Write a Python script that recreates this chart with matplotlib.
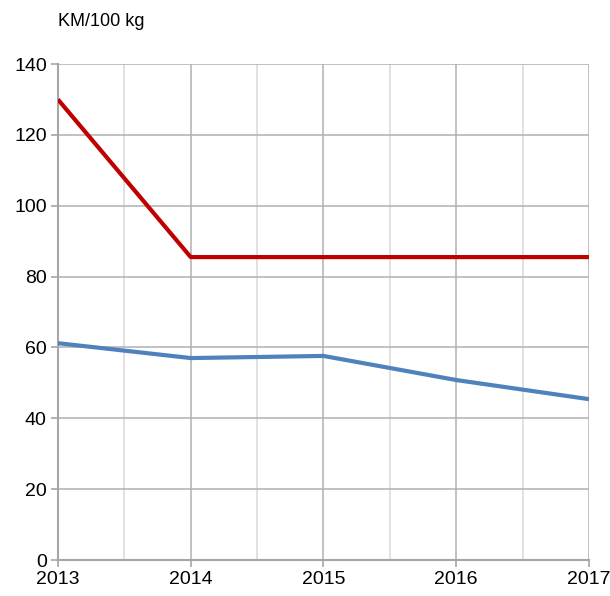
import matplotlib
matplotlib.use("Agg")
import matplotlib.pyplot as plt
from matplotlib.ticker import MultipleLocator

years = [2013, 2014, 2015, 2016, 2017]
red_values = [130.0, 85.5, 85.5, 85.5, 85.5]
blue_values = [61.2, 57.0, 57.6, 50.8, 45.4]
unit_label = "KM/100 kg"

plt.rcParams["font.family"] = ["Liberation Sans", "DejaVu Sans"]

fig = plt.figure(figsize=(6.1, 5.96), dpi=100)
ax = fig.add_axes([0.095, 0.0604, 0.8705, 0.8322])

ax.plot(years, red_values, color="#C00000", linewidth=3, solid_capstyle="butt", zorder=3)
ax.plot(years, blue_values, color="#4F81BD", linewidth=3, solid_capstyle="butt", zorder=3)

ax.set_xlim(2013, 2017)
ax.set_ylim(0, 140)
ax.xaxis.set_major_locator(MultipleLocator(1))
ax.xaxis.set_minor_locator(MultipleLocator(0.5))
ax.yaxis.set_major_locator(MultipleLocator(20))

ax.grid(which="major", axis="both", color="#B0B0B0", linewidth=1.1)
ax.grid(which="minor", axis="x", color="#D9D9D9", linewidth=1.1)
ax.set_axisbelow(True)

for side in ("top", "right"):
    ax.spines[side].set_visible(False)
for side in ("left", "bottom"):
    ax.spines[side].set_color("#A6A6A6")
    ax.spines[side].set_linewidth(1.5)

ax.tick_params(which="major", length=5, width=1.2, color="#A6A6A6", labelsize=14, pad=3)
ax.tick_params(which="minor", length=0)

# unit label above the axes, top-left
ax.text(0.0, 1.085, unit_label, transform=ax.transAxes, fontsize=13,
        ha="left", va="center")

plt.savefig("out.png", dpi=100)
plt.close()
